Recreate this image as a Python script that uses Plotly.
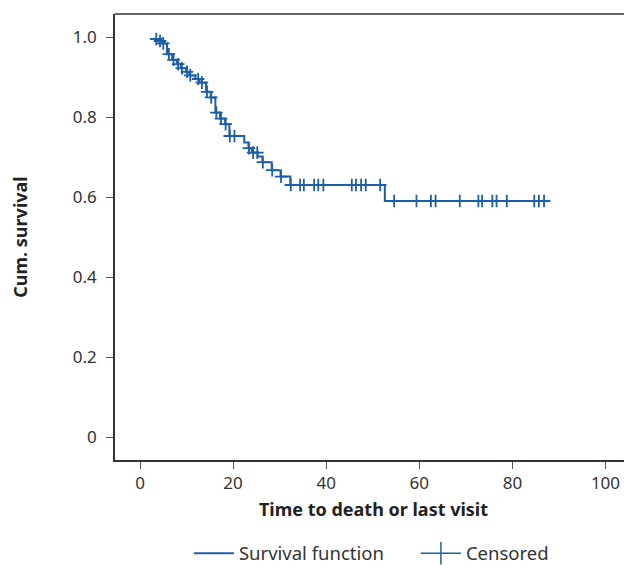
import plotly.graph_objects as go

# ---- data ----
start_time = 2.8
start_surv = 0.995
event_times = [3.9, 4.6, 5.8, 6.9, 7.9, 8.8, 9.9, 10.6, 11.9, 12.8, 14.2, 15.2, 16.2,
               17.2, 18.3, 19.2, 22.4, 23.3, 24.0, 25.3, 26.3, 28.3, 30.2, 32.3, 52.6]
event_surv = [0.990, 0.984, 0.957, 0.943, 0.932, 0.922, 0.913, 0.904, 0.895, 0.886,
              0.863, 0.849, 0.811, 0.796, 0.782, 0.7525, 0.736, 0.722, 0.711, 0.701,
              0.687, 0.667, 0.651, 0.630, 0.590]
censor_times = [3.5, 4.3, 5.0, 6.2, 7.2, 8.2, 9.0, 10.1, 10.8, 12.5, 13.3, 14.4, 15.3,
                16.4, 17.4, 18.4, 19.3, 20.3, 23.4, 24.3, 25.2, 26.4, 28.4, 30.3,
                32.4, 34.4, 35.2, 37.4, 38.3, 39.4, 45.5, 46.4, 47.5, 48.5, 51.6,
                54.6, 59.4, 62.5, 63.5, 68.7, 72.7, 73.5, 75.7, 76.6, 78.8, 84.7, 85.7, 86.8]
end_time = 86.9

x_ticks = [0, 20, 40, 60, 80, 100]
y_ticks = [0, 0.2, 0.4, 0.6, 0.8, 1.0]
y_tick_labels = ["0", "0.2", "0.4", "0.6", "0.8", "1.0"]

COLOR = "#1c5fa8"
FONT = "Noto Sans"

all_t = [start_time] + event_times
all_s = [start_surv] + event_surv


def surv_at(t):
    s = start_surv
    for et, es in zip(all_t, all_s):
        if et <= t:
            s = es
    return s


line_x = all_t + [end_time]
line_y = all_s + [all_s[-1]]
cens_y = [surv_at(t) for t in censor_times]

fig = go.Figure()
fig.add_trace(go.Scatter(
    x=line_x, y=line_y, mode="lines", line=dict(color=COLOR, width=2, shape="hv"),
    name="Survival function", showlegend=True))
fig.add_trace(go.Scatter(
    x=censor_times, y=cens_y, mode="markers",
    marker=dict(symbol="cross-thin-open", size=9, color=COLOR,
                line=dict(color=COLOR, width=1.8)),
    name="Censored", showlegend=False))
fig.add_trace(go.Scatter(
    x=[None], y=[None], mode="lines+markers", line=dict(color=COLOR, width=1.5),
    marker=dict(symbol="line-ns-open", size=16, color=COLOR,
                line=dict(color=COLOR, width=1.5)),
    name="Censored", showlegend=True))

axis_common = dict(
    showgrid=False, zeroline=False, showline=True, linecolor="#333333", linewidth=1.5,
    ticks="outside", ticklen=7, tickwidth=1.3, tickcolor="#555555", automargin=False,
    tickfont=dict(family=FONT, size=17, color="#333333"),
)

fig.update_xaxes(**axis_common, range=[-5.37, 105.7], tickvals=x_ticks, mirror=False,
                 title=dict(text="<b>Time to death or last visit</b>",
                            font=dict(family=FONT, size=18, color="#222222"), standoff=10))
fig.update_yaxes(**axis_common, range=[-0.0575, 1.0575], tickvals=y_ticks,
                 ticktext=y_tick_labels, ticklabelstandoff=6,
                 title=dict(text="<b>Cum. survival</b>",
                            font=dict(family=FONT, size=18, color="#222222"), standoff=47))

fig.add_shape(type="line", xref="paper", yref="paper", x0=0, x1=1, y0=1, y1=1,
              line=dict(color="#333333", width=1.5))

# the page body adds an 8px offset, so the figure is 8px smaller
fig.update_layout(
    width=624, height=557,
    margin=dict(l=107, r=0, t=6, b=105, autoexpand=False),
    plot_bgcolor="white", paper_bgcolor="white",
    font=dict(family=FONT, size=17, color="#333333"),
    legend=dict(orientation="h", x=0.143, xanchor="left", y=-0.21, yanchor="middle",
                font=dict(family=FONT, size=18.5, color="#333333"), itemwidth=40,
                entrywidth=172, entrywidthmode="pixels"),
)

fig.write_html("out.html")
